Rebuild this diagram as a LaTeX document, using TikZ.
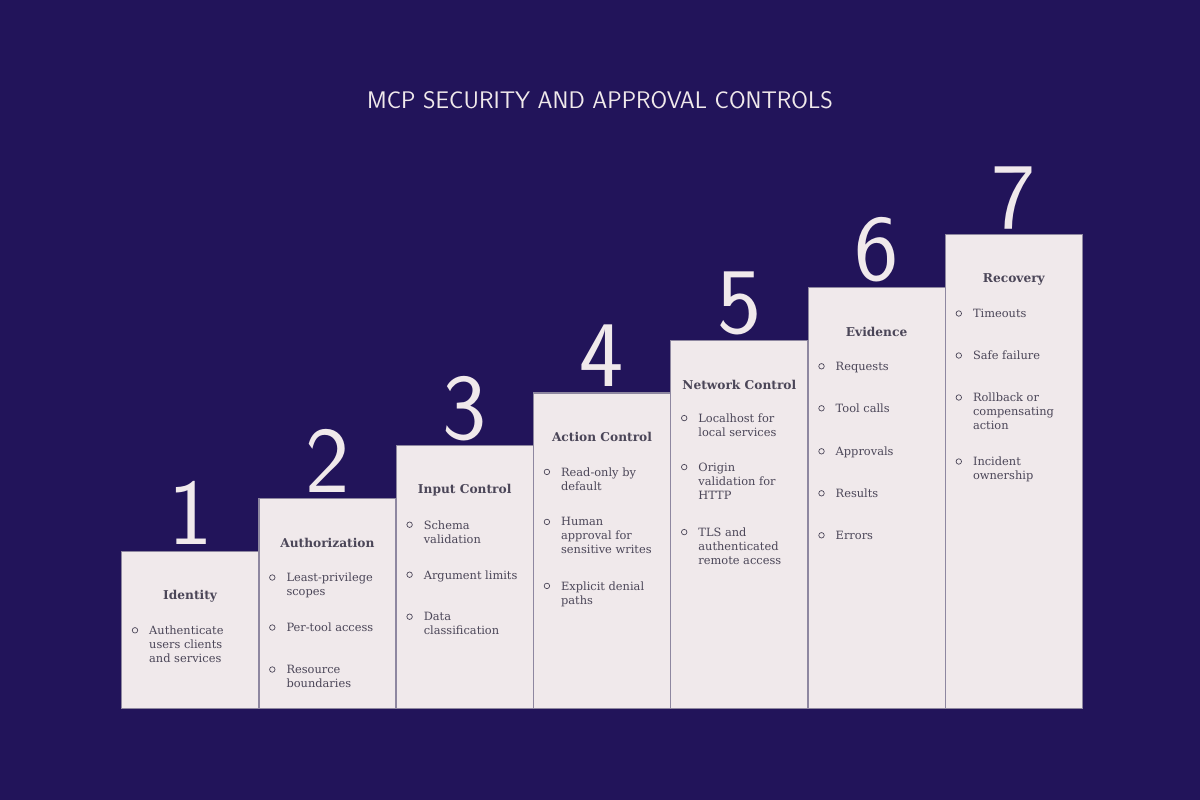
\documentclass[tikz,border=0pt]{standalone}
\usepackage{fontspec}
\setmainfont{DejaVu Serif}
\usepackage{tikz}
\usetikzlibrary{positioning}
\definecolor{nightbg}{HTML}{22145A}
\definecolor{paper}{HTML}{F0E9EB}
\definecolor{edgegrey}{HTML}{8E87A0}
\definecolor{ink}{HTML}{4B4658}
\tikzstyle{stepbox}=[draw=edgegrey,fill=paper,line width=1.2pt,minimum width=137pt,inner sep=0pt,anchor=south west]
\tikzstyle{stepnum}=[text=paper,font=\sffamily\fontsize{94}{94}\selectfont,anchor=base,inner sep=0pt]
\tikzstyle{heading}=[text=ink,font=\bfseries\fontsize{12.2}{14}\selectfont]
\tikzstyle{item}=[text=ink,font=\fontsize{11.4}{14}\selectfont,align=left,anchor=north west,inner sep=0pt]
\tikzstyle{dot}=[circle,draw=ink,line width=0.7pt,minimum size=5.5pt,inner sep=0pt]

\begin{document}
\begin{tikzpicture}[x=1pt,y=-1pt]
    % Background and title
    \fill[nightbg] (0,0) rectangle (1200,800);
    \useasboundingbox (0,0) rectangle (1200,800);
    \node[text=paper,font=\sffamily\fontsize{24}{28}\selectfont] (title) at (600,100) {MCP SECURITY AND APPROVAL CONTROLS};

    % First we draw the steps, their numbers and headings
    \foreach \i/\name [evaluate=\i as \x using 121+(\i-1)*137.3, evaluate=\i as \h using 157+(\i-1)*52.8] in {1/Identity, 2/Authorization, 3/Input Control, 4/Action Control, 5/Network Control, 6/Evidence, 7/Recovery}
    {
        \node[stepbox,minimum height=\h pt] (box\i) at (\x,709) {};
        \node[stepnum] (num\i) at ([yshift=6pt]box\i.north) {\i};
        \node[heading] (head\i) at ([yshift=-45pt]box\i.north) {\name};
    }

    % Then the bullet items of each step
    \foreach \i/\dy/\txt [count=\k] in {1/78/{Authenticate\\users clients\\and services},
        2/78/{Least-privilege\\scopes}, 2/128/{Per-tool access}, 2/170/{Resource\\boundaries},
        3/78/{Schema\\validation}, 3/128/{Argument limits}, 3/170/{Data\\classification},
        4/78/{Read-only by\\default}, 4/128/{Human\\approval for\\sensitive writes}, 4/192/{Explicit denial\\paths},
        5/77/{Localhost for\\local services}, 5/126/{Origin\\validation for\\HTTP}, 5/191/{TLS and\\authenticated\\remote access},
        6/78/{Requests}, 6/120/{Tool calls}, 6/163/{Approvals}, 6/205/{Results}, 6/247/{Errors},
        7/78/{Timeouts}, 7/120/{Safe failure}, 7/162/{Rollback or\\compensating\\action}, 7/226/{Incident\\ownership}}
    {
        \node[dot] (dot\k) at ([xshift=14pt,yshift={-(\dy+1.5)*1pt}]box\i.north west) {};
        \node[item] (item\k) at ([xshift=28pt,yshift={-(\dy-3)*1pt}]box\i.north west) {\txt};
    }
\end{tikzpicture}
\end{document}
